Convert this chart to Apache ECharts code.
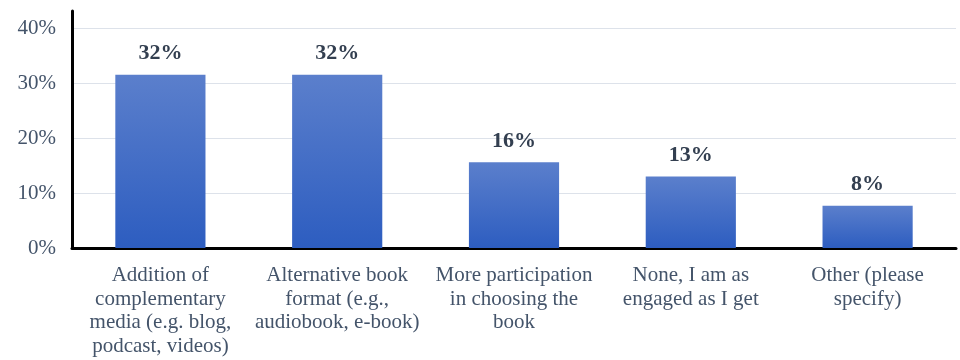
<!DOCTYPE html>
<html>
<head>
<meta charset="utf-8">
<script src="https://cdn.jsdelivr.net/npm/echarts@6/dist/echarts.min.js"></script>
<style>
  html, body { margin: 0; padding: 0; background: #fff; }
  #main { width: 960px; height: 360px; }
</style>
</head>
<body>
<div id="main"></div>
<script>
var categories = [
  'Addition of\ncomplementary\nmedia (e.g. blog,\npodcast, videos)',
  'Alternative book\nformat (e.g.,\naudiobook, e-book)',
  'More participation\nin choosing the\nbook',
  'None, I am as\nengaged as I get',
  'Other (please\nspecify)'
];
var values = [31.5, 31.5, 15.6, 13.0, 7.7];
var yTicks = [0, 10, 20, 30, 40];

var textColor = '#44546a';
var font = '"Liberation Serif", "DejaVu Serif", serif';

var myChart = echarts.init(document.getElementById('main'));
var option = {
  animation: false,
  grid: { left: 72, right: 4, top: 11, bottom: 112 },
  xAxis: {
    type: 'category',
    data: categories,
    axisLine: { lineStyle: { color: '#000', width: 3 } },
    axisTick: { show: false },
    axisLabel: {
      interval: 0,
      margin: 16,
      color: textColor,
      fontFamily: font,
      fontSize: 21,
      lineHeight: 23.5
    }
  },
  yAxis: {
    type: 'value',
    min: 0,
    max: 43.1,
    interval: 10,
    axisLine: { show: true, lineStyle: { color: '#000', width: 3 } },
    axisTick: { show: false },
    axisLabel: {
      margin: 16,
      color: textColor,
      fontFamily: font,
      fontSize: 21,
      formatter: function (v) {
        return yTicks.indexOf(v) >= 0 ? v + '%' : '';
      }
    },
    splitLine: { showMaxLine: false, lineStyle: { color: '#dde2ea', width: 1 } }
  },
  series: [{
    type: 'bar',
    data: values,
    barWidth: '51%',
    itemStyle: {
      color: new echarts.graphic.LinearGradient(0, 0, 0, 1, [
        { offset: 0, color: '#5b7fcc' },
        { offset: 1, color: '#2d5dc0' }
      ])
    },
    label: {
      show: true,
      position: 'top',
      distance: 10,
      color: '#333f50',
      fontFamily: font,
      fontWeight: 'bold',
      fontSize: 22,
      formatter: function (p) { return Math.round(p.value) + '%'; }
    }
  }]
};
myChart.setOption(option);
</script>
</body>
</html>
